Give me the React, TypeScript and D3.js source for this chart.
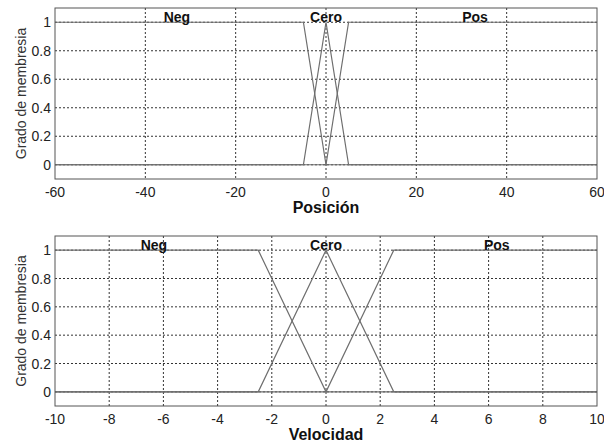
import React from "react";
import * as d3 from "d3";

const posTicks = [-60, -40, -20, 0, 20, 40, 60];
const velTicks = [-10, -8, -6, -4, -2, 0, 2, 4, 6, 8, 10];
const yTicks = [0, 0.2, 0.4, 0.6, 0.8, 1];
const yTickLabels = ["0", "0.2", "0.4", "0.6", "0.8", "1"];

const mfNames = ["Neg", "Cero", "Pos"];

// Posición membership functions (breakpoints)
const posNegX = [-60, -5, 0, 60];
const posNegY = [1, 1, 0, 0];
const posCeroX = [-60, -5, 0, 5, 60];
const posCeroY = [0, 0, 1, 0, 0];
const posPosX = [-60, 0, 5, 60];
const posPosY = [0, 0, 1, 1];
const posLabelX = [-33, 0, 33];

// Velocidad membership functions (breakpoints)
const velNegX = [-10, -2.5, 0, 10];
const velNegY = [1, 1, 0, 0];
const velCeroX = [-10, -2.5, 0, 2.5, 10];
const velCeroY = [0, 0, 1, 0, 0];
const velPosX = [-10, 0, 2.5, 10];
const velPosY = [0, 0, 1, 1];
const velLabelX = [-6.35, 0, 6.3];

const FONT = "'Liberation Sans', Arial, sans-serif";

type Series = { x: number[]; y: number[] };

function Panel(props: {
  top: number;
  bottom: number;
  domain: [number, number];
  ticks: number[];
  series: Series[];
  labelX: number[];
  title: string;
}) {
  const { top, bottom, domain, ticks, series, labelX, title } = props;
  const left = 55;
  const right = 597;
  const x = d3.scaleLinear().domain(domain).range([left, right]);
  const y = d3.scaleLinear().domain([-0.1, 1.1]).range([bottom, top]);
  const line = d3
    .line<[number, number]>()
    .x((d) => x(d[0]))
    .y((d) => y(d[1]));
  return (
    <g>
      {/* grid */}
      {ticks.slice(1, -1).map((t) => (
        <line
          key={"gx" + t}
          x1={x(t)}
          x2={x(t)}
          y1={top}
          y2={bottom}
          stroke="#333"
          strokeWidth={1}
          strokeDasharray="2,2"
        />
      ))}
      {yTicks.map((t) => (
        <line
          key={"gy" + t}
          x1={left}
          x2={right}
          y1={y(t)}
          y2={y(t)}
          stroke="#333"
          strokeWidth={1}
          strokeDasharray="2,2"
        />
      ))}
      {/* curves */}
      {series.map((s, i) => (
        <path
          key={"s" + i}
          d={line(s.x.map((v, j) => [v, s.y[j]] as [number, number])) || ""}
          fill="none"
          stroke="#6e6e6e"
          strokeWidth={1.2}
        />
      ))}
      {/* frame */}
      <rect
        x={left}
        y={top}
        width={right - left}
        height={bottom - top}
        fill="none"
        stroke="#555"
        strokeWidth={1}
      />
      {/* MF labels */}
      {mfNames.map((n, i) => (
        <text
          key={"l" + n}
          x={x(labelX[i])}
          y={top + 14}
          textAnchor="middle"
          fontFamily={FONT}
          fontWeight="bold"
          fontSize={14}
          fill="#111"
        >
          {n}
        </text>
      ))}
      {/* x tick labels */}
      {ticks.map((t) => (
        <text
          key={"tx" + t}
          x={x(t)}
          y={bottom + 18}
          textAnchor="middle"
          fontFamily={FONT}
          fontSize={14}
          fill="#222"
        >
          {String(t)}
        </text>
      ))}
      {/* y tick labels */}
      {yTicks.map((t, i) => (
        <text
          key={"ty" + t}
          x={left - 4}
          y={y(t) + 5}
          textAnchor="end"
          fontFamily={FONT}
          fontSize={14}
          fill="#222"
        >
          {yTickLabels[i]}
        </text>
      ))}
      {/* y label */}
      <text
        transform={`translate(${26},${(top + bottom) / 2}) rotate(-90)`}
        textAnchor="middle"
        fontFamily={FONT}
        fontSize={14}
        fill="#333"
      >
        Grado de membresia
      </text>
      {/* x title */}
      <text
        x={(left + right) / 2}
        y={bottom + 34}
        textAnchor="middle"
        fontFamily={FONT}
        fontWeight="bold"
        fontSize={16}
        fill="#111"
      >
        {title}
      </text>
    </g>
  );
}

export default function App() {
  return (
    <svg
      width={604}
      height={444}
      style={{ position: "absolute", left: 0, top: 0, background: "#fff" }}
    >
      <rect x={0} y={0} width={604} height={444} fill="#fff" />
      <Panel
        top={8}
        bottom={179}
        domain={[-60, 60]}
        ticks={posTicks}
        series={[
          { x: posNegX, y: posNegY },
          { x: posCeroX, y: posCeroY },
          { x: posPosX, y: posPosY },
        ]}
        labelX={posLabelX}
        title="Posición"
      />
      <Panel
        top={236}
        bottom={406}
        domain={[-10, 10]}
        ticks={velTicks}
        series={[
          { x: velNegX, y: velNegY },
          { x: velCeroX, y: velCeroY },
          { x: velPosX, y: velPosY },
        ]}
        labelX={velLabelX}
        title="Velocidad"
      />
    </svg>
  );
}
